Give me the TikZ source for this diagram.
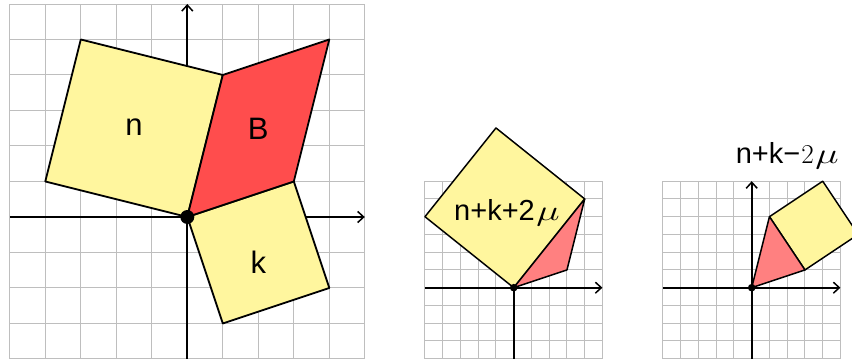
\documentclass[tikz,border=0pt]{standalone}
\usepackage{fontspec}
\setmainfont{Liberation Sans}
\usetikzlibrary{arrows.meta}
\definecolor{sqyellow}{RGB}{255,246,158}
\definecolor{bred}{RGB}{255,77,77}
\definecolor{tripink}{RGB}{255,128,128}
\definecolor{gridgray}{RGB}{190,190,190}
\newcommand\bigmu{\kern1.5bp\scalebox{1.6}[1.15]{$\mu$}}
\begin{document}
\begin{tikzpicture}[
  gridline/.style={draw=gridgray, line width=1bp},
  axisline/.style={draw=black, line width=1.8bp, -{Straight Barb[length=6bp,width=11bp,line width=1.5bp]}},
  piece/.style={draw=black, line width=1.8bp, line join=round},
  smallpiece/.style={draw=black, line width=1.5bp, line join=round},
  lbl/.style={font=\fontsize{31bp}{33bp}\selectfont, inner sep=0pt},
  slbl/.style={font=\fontsize{29bp}{31bp}\selectfont, inner sep=0pt, anchor=base}
]
\useasboundingbox (0,0) rectangle (852bp,362bp);

% ---------- panel 1 ----------
\begin{scope}[shift={(187.3bp,145bp)}, x=35.5bp, y=35.5bp]
  \draw[gridline, step=1] (-5,-4) grid (5,6);
  \coordinate (a1l) at (-5,0); \coordinate (a1r) at (5,0);
  \coordinate (a1b) at (0,-4); \coordinate (a1t) at (0,6);
  \draw[axisline] (a1l) -- (a1r);
  \draw[axisline] (a1b) -- (a1t);
  \coordinate (O1) at (0,0);
  \coordinate (P1) at (1,4);
  \coordinate (Q1) at (3,1);
  \filldraw[piece, fill=sqyellow] (O1) -- (P1) -- (-3,5) -- (-4,1) -- cycle;
  \filldraw[piece, fill=sqyellow] (O1) -- (Q1) -- (4,-2) -- (1,-3) -- cycle;
  \filldraw[piece, fill=bred] (O1) -- (P1) -- (4,5) -- (Q1) -- cycle;
  \fill[black] (O1) circle (7bp);
  \node[lbl] (ln) at (-1.5,2.52) {n};
  \node[lbl] (lB) at (2,2.48) {B};
  \node[lbl] (lk) at (2,-1.27) {k};
\end{scope}

% ---------- panel 2 ----------
\begin{scope}[shift={(513.7bp,74.3bp)}, x=17.75bp, y=17.75bp]
  \draw[gridline, step=1] (-5,-4) grid (5,6);
  \coordinate (a2l) at (-5,0); \coordinate (a2r) at (5,0);
  \coordinate (a2b) at (0,-4); \coordinate (a2t) at (0,6);
  \draw[axisline] (a2l) -- (a2r);
  \draw[axisline] (a2b) -- (a2t);
  \coordinate (O2) at (0,0);
  \coordinate (S2) at (4,5);
  \coordinate (Q2) at (3,1);
  \filldraw[smallpiece, fill=sqyellow] (O2) -- (S2) -- (-1,9) -- (-5,4) -- cycle;
  \filldraw[smallpiece, fill=tripink] (O2) -- (Q2) -- (S2) -- cycle;
  \fill[black] (O2) circle (3.8bp);
  \node[slbl] (l2) at (-0.38,3.81) {n+k+2\bigmu};
\end{scope}

% ---------- panel 3 ----------
\begin{scope}[shift={(751.7bp,74.3bp)}, x=17.75bp, y=17.75bp]
  \draw[gridline, step=1] (-5,-4) grid (5,6);
  \coordinate (a3l) at (-5,0); \coordinate (a3r) at (5,0);
  \coordinate (a3b) at (0,-4); \coordinate (a3t) at (0,6);
  \draw[axisline] (a3l) -- (a3r);
  \draw[axisline] (a3b) -- (a3t);
  \coordinate (O3) at (0,0);
  \coordinate (P3) at (1,4);
  \coordinate (Q3) at (3,1);
  \filldraw[smallpiece, fill=sqyellow] (P3) -- (Q3) -- (6,3) -- (4,6) -- cycle;
  \filldraw[smallpiece, fill=tripink] (O3) -- (P3) -- (Q3) -- cycle;
  \fill[black] (O3) circle (3.8bp);
  \node[slbl] (l3) at (2,6.97) {n+k−\kern1bp\scalebox{1.1}{$2$}\bigmu};
\end{scope}
\end{tikzpicture}
\end{document}
